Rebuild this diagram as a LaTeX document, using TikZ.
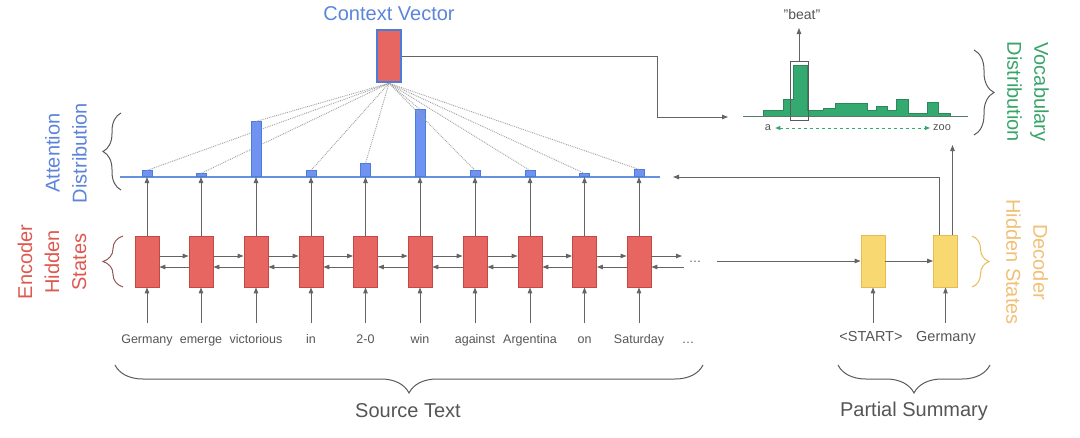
\documentclass[tikz,border=0pt]{standalone}
\usepackage{fontspec}
\setmainfont{Liberation Sans}
\usetikzlibrary{arrows.meta,decorations.pathreplacing,calc}
\definecolor{encred}{RGB}{232,102,98}
\definecolor{encredd}{RGB}{196,72,70}
\definecolor{cvblue}{RGB}{74,125,215}
\definecolor{barblue}{RGB}{112,146,240}
\definecolor{txtblue}{RGB}{92,132,218}
\definecolor{labred}{RGB}{222,88,80}
\definecolor{decy}{RGB}{248,216,112}
\definecolor{decyd}{RGB}{232,186,82}
\definecolor{labyel}{RGB}{240,192,118}
\definecolor{vgreen}{RGB}{52,170,112}
\definecolor{labgreen}{RGB}{56,164,104}
\definecolor{lgray}{RGB}{100,100,100}
\definecolor{tgray}{RGB}{85,85,85}
\definecolor{brgray}{RGB}{90,90,90}
\begin{document}
\begin{tikzpicture}[x=1pt,y=-1pt,
  enc/.style={draw=encredd, fill=encred, line width=0.8pt, minimum width=24pt, minimum height=51pt, inner sep=0pt},
  dec/.style={draw=decyd, fill=decy, line width=0.8pt, minimum width=24pt, minimum height=52pt, inner sep=0pt},
  abar/.style={draw=cvblue, fill=barblue, line width=0.6pt, minimum width=10pt, inner sep=0pt, anchor=south},
  conn/.style={draw=lgray, line width=1pt, -{Triangle[length=6pt,width=4.5pt]}},
  word/.style={text=tgray, font=\fontsize{12.5}{14}\selectfont, inner sep=0pt},
  lab/.style={font=\fontsize{20}{27}\selectfont, align=center, inner sep=0pt},
  brc/.style={decorate, decoration={brace, amplitude=#1}, line width=1pt},
  dots/.style={draw=gray!75, densely dotted, line width=0.9pt},
]
\useasboundingbox (0,0) rectangle (1080,437);

% attention axis
\coordinate (axL) at (120,177);
\coordinate (axR) at (660,177);
\draw[cvblue!85, line width=1.2pt] (axL) -- (axR);

% context vector
\node[draw=cvblue, line width=2.5pt, fill=encred, minimum width=24pt, minimum height=52pt, inner sep=0pt] (cv) at (389,56) {};
\node[lab, text=txtblue] (cvlab) at (389,14) {Context Vector};

% encoder
\foreach \i/\x/\w/\h in {1/147/Germany/6, 2/201/emerge/3, 3/256/victorious/55, 4/311/in/6, 5/365.5/2-0/13, 6/420/win/67, 7/475/against/6, 8/530/Argentina/6, 9/584.5/on/3, 10/639/Saturday/7}{
  \node[enc] (e\i) at (\x,261.5) {};
  \node[word, anchor=base] (w\i) at (\x,343) {\w};
  \coordinate (in\i) at (\x,323);
  \draw[conn] (in\i) -- (e\i.south);
  \node[abar, minimum height=\h pt] (b\i) at (\x,177) {};
  \draw[conn] (e\i.north) -- (b\i.south);
  \draw[dots] (b\i.north) -- (cv.south);
}
\foreach \i/\j in {1/2,2/3,3/4,4/5,5/6,6/7,7/8,8/9,9/10}{
  \draw[conn] ([yshift=5.5pt]e\i.east) -- ([yshift=5.5pt]e\j.west);
  \draw[conn] ([yshift=-5.5pt]e\j.west) -- ([yshift=-5.5pt]e\i.east);
}
\coordinate (fwdend) at (682,256);
\coordinate (bwdstart) at (684,267);
\draw[conn] ([yshift=5.5pt]e10.east) -- (fwdend);
\draw[conn] (bwdstart) -- ([yshift=-5.5pt]e10.east);
\node[word, anchor=base] (edots) at (695,262) {\ldots};
\node[word, anchor=base] (wdots) at (688,343) {\ldots};

% decoder
\node[dec] (d1) at (873,261) {};
\node[dec] (d2) at (945.5,261) {};
\coordinate (encout) at (717,261);
\draw[conn] (encout) -- (d1.west);
\draw[conn] (d1.east) -- (d2.west);
\node[word, font=\fontsize{14.5}{16}\selectfont, anchor=base] (s1) at (871,341) {<START>};
\node[word, font=\fontsize{14.5}{16}\selectfont, anchor=base] (s2) at (946,341) {Germany};
\coordinate (din1) at (873,323);
\coordinate (din2) at (945.5,323);
\draw[conn] (din1) -- (d1.south);
\draw[conn] (din2) -- (d2.south);
\coordinate (atttip) at (673,177);
\draw[conn] ([xshift=-6.5pt]d2.north) |- (atttip);
\coordinate (voctip) at (952.5,145);
\draw[conn] ([xshift=7pt]d2.north) -- (voctip);

% context vector to vocabulary
\coordinate (bend) at (657,56);
\coordinate (vocin) at (728,117);
\draw[conn] (cv.east) -- (bend) |- (vocin);

% vocabulary distribution
\draw[fill=vgreen, draw=vgreen!80!black, line width=0.5pt]
  (763,116.5) -- (763,110) -- (783,110) -- (783,99) -- (793,99) -- (793,65) -- (807,65)
  -- (807,110) -- (823,110) -- (823,108) -- (835,108) -- (835,103) -- (867,103)
  -- (867,110) -- (876,110) -- (876,106) -- (887,106) -- (887,110) -- (896,110)
  -- (896,99) -- (908,99) -- (908,113) -- (927,113) -- (927,102) -- (938,102)
  -- (938,113) -- (950,113) -- (950,116.5) -- cycle;
\coordinate (vbL) at (743,116.5);
\coordinate (vbR) at (968,116.5);
\draw[draw=lgray!70!vgreen, line width=1pt] (vbL) -- (vbR);
\node[draw=brgray, line width=1pt, minimum width=18pt, minimum height=59pt, inner sep=0pt] (hl) at (799,90.5) {};
\coordinate (beattip) at (799,28);
\draw[conn] (hl.north) -- (beattip);
\node[word, font=\fontsize{14}{16}\selectfont] (beat) at (802,14) {"beat"};
\node[word, font=\fontsize{11}{13}\selectfont] (va) at (768,128) {a};
\node[word, font=\fontsize{11}{13}\selectfont] (vz) at (942,128) {zoo};
\draw[vgreen, dashed, line width=0.9pt, {Triangle[length=5pt,width=4pt]}-{Triangle[length=5pt,width=4pt]}] ([xshift=4pt]va.east) -- ([xshift=-3pt]vz.west);

% braces and labels
\coordinate (abB) at (121,190);
\coordinate (abT) at (121,113);
\draw[brc=18pt, brgray] (abB) -- (abT);
\node[lab, text=txtblue, rotate=90] (attlab) at (66,153) {Attention\\Distribution};

\coordinate (ebB) at (123,287);
\coordinate (ebT) at (123,236);
\draw[brc=20pt, brgray!60!labred] (ebB) -- (ebT);
\node[lab, text=labred, rotate=90] (enclab) at (52,262) {Encoder\\Hidden\\States};

\coordinate (dbT) at (972,236);
\coordinate (dbB) at (972,287);
\draw[brc=17pt, decyd] (dbT) -- (dbB);
\node[lab, text=labyel, rotate=-90] (declab) at (1027,262) {Decoder\\Hidden States};

\coordinate (vbT) at (974,50);
\coordinate (vbB) at (974,135);
\draw[brc=20pt, brgray] (vbT) -- (vbB);
\node[lab, text=labgreen, rotate=-90] (voclab) at (1028,92) {Vocabulary\\Distribution};

\coordinate (sbR) at (703,365);
\coordinate (sbL) at (115,365);
\draw[brc=28pt, brgray] (sbR) -- (sbL);
\node[lab, text=tgray] (srclab) at (408,411) {Source Text};

\coordinate (pbR) at (990,365);
\coordinate (pbL) at (838,365);
\draw[brc=28pt, brgray] (pbR) -- (pbL);
\node[lab, text=tgray] (pslab) at (914,411) {Partial Summary};
\end{tikzpicture}
\end{document}
